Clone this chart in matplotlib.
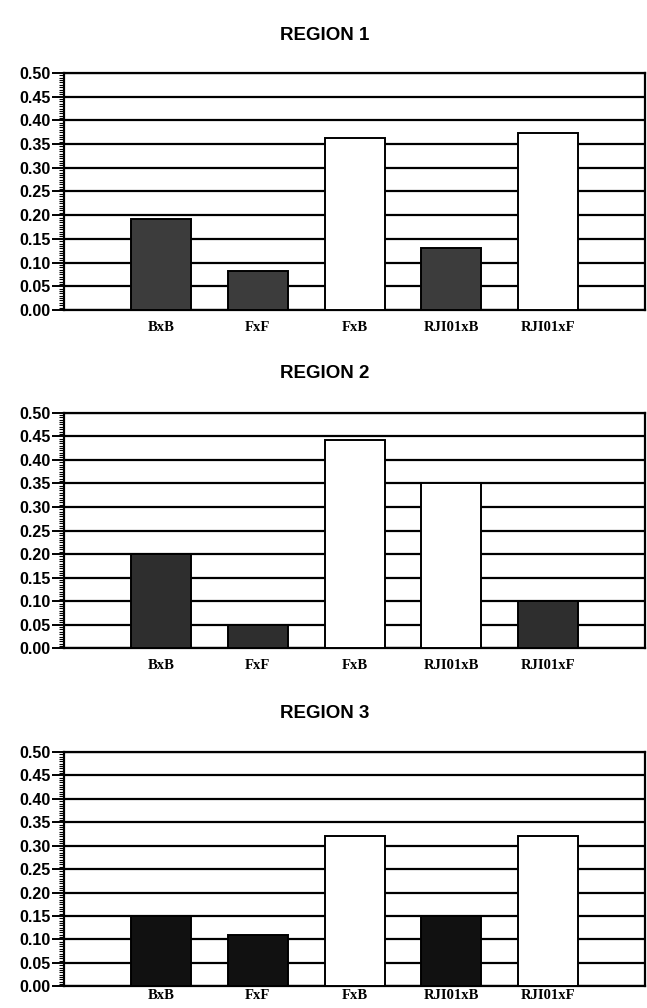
import matplotlib.pyplot as plt
import numpy as np
from matplotlib.ticker import MultipleLocator

# data
crosses = ["BxB", "FxF", "FxB", "RJI01xB", "RJI01xF"]
region1 = [0.191, 0.083, 0.362, 0.131, 0.373]
region2 = [0.200, 0.050, 0.442, 0.350, 0.100]
region3 = [0.150, 0.110, 0.320, 0.150, 0.320]
# which bars are shaded (True) vs open (False)
shade1 = [True, True, False, True, False]
shade2 = [True, True, False, False, True]
shade3 = [True, True, False, True, False]
titles = ["REGION 1", "REGION 2", "REGION 3"]

panels = [(region1, shade1, "#3c3c3c"), (region2, shade2, "#2e2e2e"), (region3, shade3, "#111111")]

fig = plt.figure(figsize=(6.47, 10.08), dpi=100)

# axes boxes in figure fraction: left, bottom, width, height
boxes = [(0.099, 0.6925, 0.898, 0.2351),
         (0.099, 0.3568, 0.898, 0.2338),
         (0.099, 0.0215, 0.898, 0.2325)]
title_y = [0.965, 0.629, 0.292]
label_pad = [8, 8, 2]

x = np.arange(1, len(crosses) + 1)

for (vals, shade, dark), box, title, ty, lp in zip(panels, boxes, titles, title_y, label_pad):
    ax = fig.add_axes(box)
    colors = [dark if s else "white" for s in shade]
    ax.bar(x, vals, width=0.62, color=colors, edgecolor="black", linewidth=1.4, zorder=3)
    ax.set_xlim(0, 6)
    ax.set_ylim(0, 0.5)
    ax.yaxis.set_minor_locator(MultipleLocator(0.005))
    ax.grid(axis="y", which="major", color="black", linewidth=1.6, zorder=1)
    ax.set_axisbelow(True)
    ax.set_xticks(x)
    ax.set_xticklabels(crosses, fontfamily="Liberation Serif", fontweight="bold", fontsize=10.5)
    ticks = np.arange(0, 0.501, 0.05)
    ax.set_yticks(ticks)
    ax.set_yticklabels([f"{v:.2f}" for v in ticks],
                       fontfamily="Liberation Sans", fontweight="bold", fontsize=11.5)
    ax.tick_params(axis="x", length=0, pad=lp)
    ax.tick_params(axis="y", which="major", length=8.5, width=1.4, pad=1)
    ax.tick_params(axis="y", which="minor", length=3.5, width=0.8)
    for sp in ax.spines.values():
        sp.set_linewidth(1.6)
    fig.text(0.502, ty, title, ha="center", va="center",
             fontfamily="Liberation Sans", fontweight="bold", fontsize=13.5)

fig.savefig("out.png", dpi=100)
